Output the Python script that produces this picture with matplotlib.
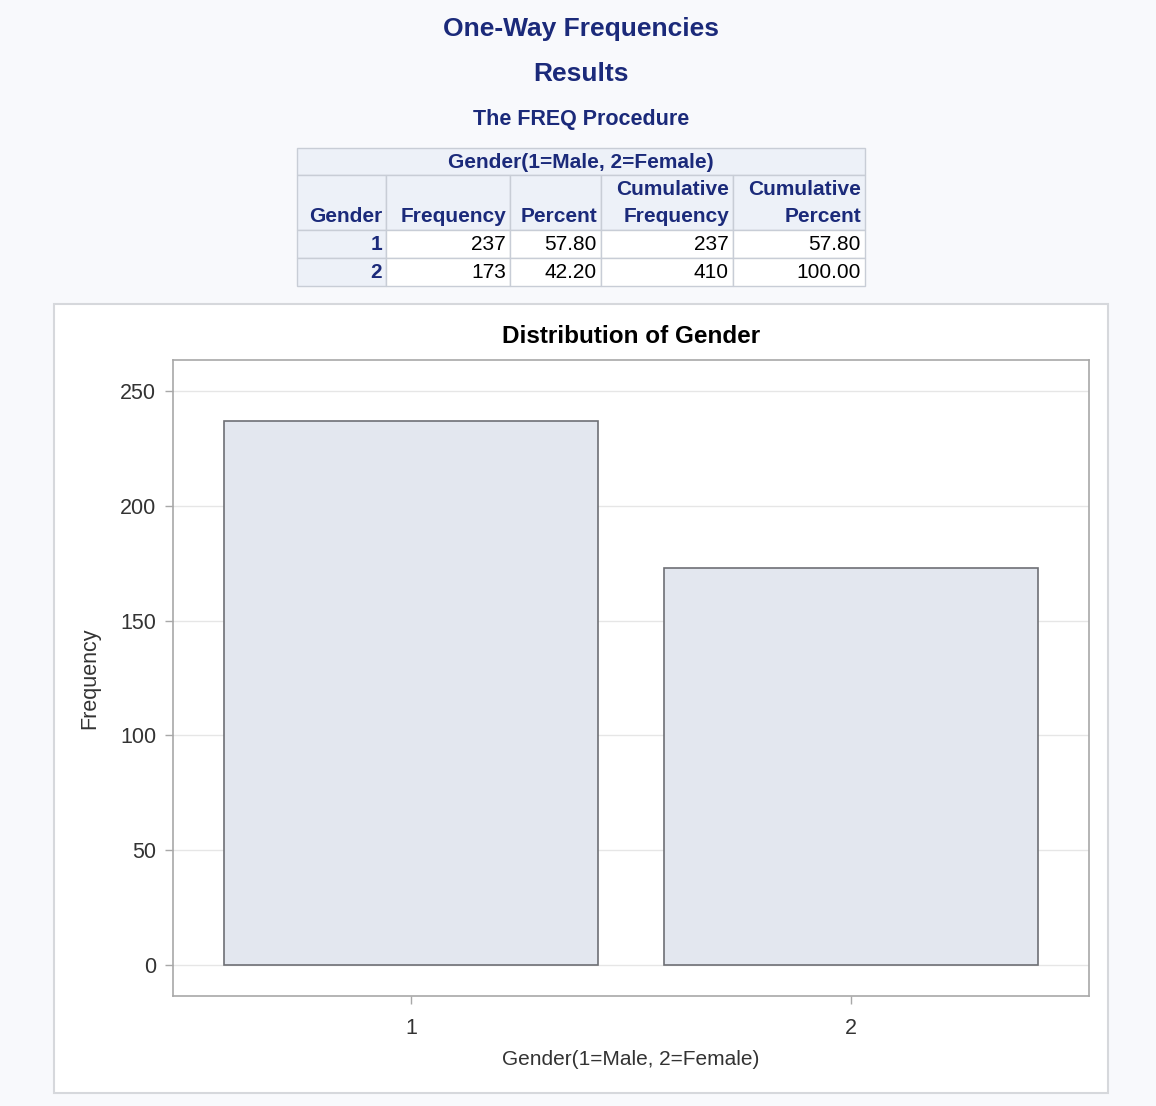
import matplotlib.pyplot as plt
from matplotlib.patches import Rectangle

plt.rcParams['font.family'] = ['Liberation Sans', 'DejaVu Sans']

genders = [1, 2]
frequency = [237, 173]
percent = ["57.80", "42.20"]
cum_frequency = [237, 410]
cum_percent = ["57.80", "100.00"]

W, H = 1156, 1106
navy = "#1b2a7a"
fig = plt.figure(figsize=(W / 100, H / 100), dpi=100)
fig.patch.set_facecolor("#f8f9fc")


def fx(x):
    return x / W


def fy(y):
    return 1 - y / H


# headings
fig.text(fx(581), fy(29), "One-Way Frequencies", ha="center", va="center",
         fontsize=19, fontweight="bold", color=navy)
fig.text(fx(581), fy(74), "Results", ha="center", va="center",
         fontsize=19, fontweight="bold", color=navy)
fig.text(fx(581), fy(119), "The FREQ Procedure", ha="center", va="center",
         fontsize=15.5, fontweight="bold", color=navy)

# frequency table
cols = [297, 386, 510, 601, 733, 865]
rows = [148, 175, 230, 258, 286]
head_bg = "#edf1f8"
grid_c = "#c8cdd6"
tfs = 15


def cell(x0, y0, x1, y1, bg):
    fig.patches.append(Rectangle((fx(x0), fy(y1)), fx(x1 - x0), fy(y0) - fy(y1),
                                 transform=fig.transFigure, facecolor=bg,
                                 edgecolor=grid_c, linewidth=1))


cell(cols[0], rows[0], cols[-1], rows[1], head_bg)
fig.text(fx((cols[0] + cols[-1]) / 2), fy((rows[0] + rows[1]) / 2 + 1),
         "Gender(1=Male, 2=Female)", ha="center", va="center",
         fontsize=tfs, fontweight="bold", color=navy)

headers = [["", "Gender"], ["", "Frequency"], ["", "Percent"],
           ["Cumulative", "Frequency"], ["Cumulative", "Percent"]]
for i, (h1, h2) in enumerate(headers):
    cell(cols[i], rows[1], cols[i + 1], rows[2], head_bg)
    fig.text(fx(cols[i + 1] - 4), fy(190), h1, ha="right", va="center",
             fontsize=tfs, fontweight="bold", color=navy)
    fig.text(fx(cols[i + 1] - 4), fy(216), h2, ha="right", va="center",
             fontsize=tfs, fontweight="bold", color=navy)

for r in range(len(genders)):
    y0, y1 = rows[2 + r], rows[3 + r]
    vals = [str(genders[r]), str(frequency[r]), percent[r],
            str(cum_frequency[r]), cum_percent[r]]
    for i, v in enumerate(vals):
        cell(cols[i], y0, cols[i + 1], y1, head_bg if i == 0 else "white")
        fig.text(fx(cols[i + 1] - 4), fy((y0 + y1) / 2 + 1), v, ha="right",
                 va="center", fontsize=tfs,
                 fontweight="bold" if i == 0 else "normal",
                 color=navy if i == 0 else "black")

# graph panel
fig.patches.append(Rectangle((fx(54), fy(1093)), fx(1108 - 54), fy(304) - fy(1093),
                             transform=fig.transFigure, facecolor="white",
                             edgecolor="#d6d8dc", linewidth=1.5, zorder=-1))

ax = fig.add_axes([fx(173), fy(996), fx(1089 - 173), fy(360) - fy(996)])
ax.set_facecolor("white")
ax.bar(genders, frequency, width=0.85, color="#e3e7ef", edgecolor="#6e7075",
       linewidth=1.2, zorder=3)
ax.set_xlim(0.459, 2.541)
ax.set_ylim(-13.5, 263.5)
ax.set_yticks(range(0, 251, 50))
ax.set_xticks(genders)
ax.grid(axis="y", color="#e6e6e6", linewidth=1, zorder=0)
for s in ax.spines.values():
    s.set_color("#a8a8a8")
    s.set_linewidth(1.2)
ax.tick_params(colors="#333333", labelsize=15.5, length=6, width=1, pad=6)
ax.tick_params(axis="x", pad=10)
ax.tick_params(axis="both", color="#a8a8a8")
ax.set_title("Distribution of Gender", fontsize=17.5, fontweight="bold",
             color="black", pad=12)
ax.set_xlabel("Gender(1=Male, 2=Female)", fontsize=15, color="#333333", labelpad=8)
ax.set_ylabel("Frequency", fontsize=15.5, color="#333333", labelpad=14)

fig.savefig("out.png", dpi=100, facecolor=fig.get_facecolor())
